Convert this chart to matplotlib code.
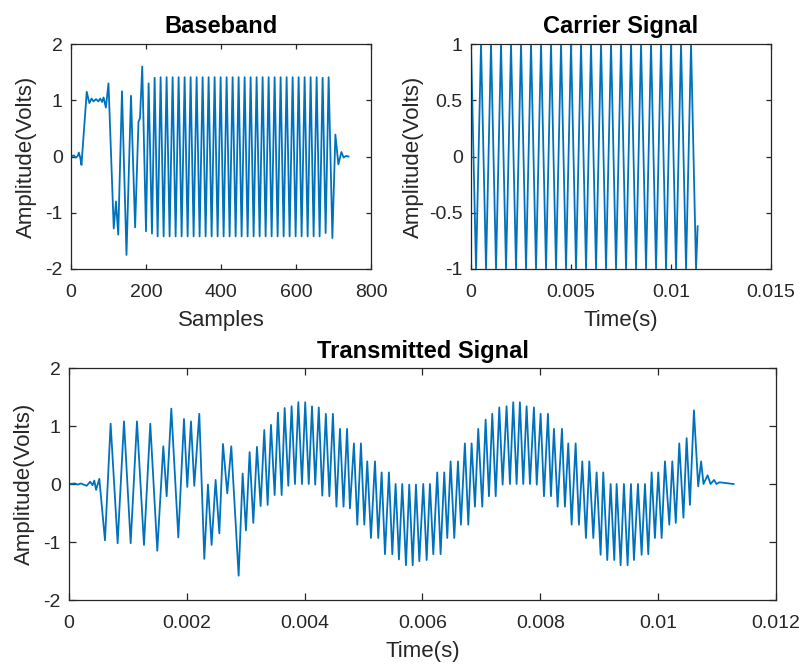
import numpy as np
import matplotlib
matplotlib.use("Agg")
import matplotlib.pyplot as plt
from matplotlib import font_manager

plt.rcParams['font.family'] = ['Liberation Sans', 'DejaVu Sans']
plt.rcParams['axes.unicode_minus'] = False

LINE_COLOR = '#0072BD'
AX_COLOR = '#262626'

# narrow bold face for the titles when it is available
_names = {f.name for f in font_manager.fontManager.ttflist}
if 'Liberation Sans Narrow' in _names:
    TITLE_FONT = dict(family=['Liberation Sans Narrow', 'Liberation Sans'], fontsize=19, fontweight='bold')
else:
    TITLE_FONT = dict(family=['Liberation Sans', 'DejaVu Sans'], fontsize=17, fontweight='bold')

# baseband: vertices of the waveform (sample index, amplitude)
baseband_n = [0, 8, 13, 18, 21, 25, 28, 42, 49, 55, 60, 67, 73, 78, 83, 87, 93, 100,
              114, 120, 126, 136, 148, 160, 171, 180, 184, 190, 200, 207, 216,
              223, 231, 239, 247, 255, 263, 271, 279, 287, 295, 303, 311, 319, 327, 335,
              343, 351, 359, 367, 375, 383, 391, 399, 407, 415, 423, 431, 439, 447, 455,
              463, 471, 479, 487, 495, 503, 511, 519, 527, 535, 543, 551, 559, 567, 575,
              583, 591, 599, 607, 615, 623, 631, 639, 647, 655, 663, 671, 679, 687,
              697, 705, 713, 721, 727, 733, 740]
baseband_v = [0.0, 0.02, -0.02, 0.01, 0.07, -0.03, -0.15, 1.15, 0.95, 1.03, 0.98, 1.02, 0.98, 1.03, 0.97, 1.05, 0.87, 1.30,
              -1.28, -0.80, -1.39, 1.16, -1.75, 1.08, -1.26, 0.62, 0.68, 1.60, -1.33, 1.30, -1.37,
              1.40, -1.42, 1.41, -1.42, 1.41, -1.42, 1.41, -1.42, 1.41, -1.42, 1.41, -1.42, 1.41, -1.42, 1.41,
              -1.42, 1.41, -1.42, 1.41, -1.42, 1.41, -1.42, 1.41, -1.42, 1.41, -1.42, 1.41, -1.42, 1.41, -1.42,
              1.41, -1.42, 1.41, -1.42, 1.41, -1.42, 1.41, -1.42, 1.41, -1.42, 1.41, -1.42, 1.41, -1.42, 1.41,
              -1.42, 1.41, -1.42, 1.41, -1.42, 1.41, -1.42, 1.41, -1.42, 1.41, -1.42, 1.40, -1.36, 1.41,
              -1.45, 0.39, -0.14, 0.08, -0.02, 0.01, 0.0]

# carrier: vertices (ms, amplitude)
carrier_ms = [0.0, 0.25, 0.5, 0.75, 1.0, 1.25, 1.5, 1.75, 2.0, 2.25, 2.5, 2.75, 3.0, 3.25,
              3.5, 3.75, 4.0, 4.25, 4.5, 4.75, 5.0, 5.25, 5.5, 5.75, 6.0, 6.25, 6.5, 6.75,
              7.0, 7.25, 7.5, 7.75, 8.0, 8.25, 8.5, 8.75, 9.0, 9.25, 9.5, 9.75, 10.0, 10.25,
              10.5, 10.75, 11.0, 11.25, 11.33]
carrier_v = [1, -1, 1, -1, 1, -1, 1, -1, 1, -1, 1, -1, 1, -1,
             1, -1, 1, -1, 1, -1, 1, -1, 1, -1, 1, -1, 1, -1,
             1, -1, 1, -1, 1, -1, 1, -1, 1, -1, 1, -1, 1, -1,
             1, -1, 1, -1, -0.62]

# transmitted signal: vertices (ms, amplitude)
tx_ms = [0.0, 0.10, 0.15, 0.20, 0.25, 0.30, 0.36, 0.40, 0.43, 0.46, 0.515,
         0.611, 0.707, 0.826, 0.934, 1.047, 1.154, 1.273, 1.380, 1.499, 1.601, 1.658,
         1.737, 1.856, 1.952, 2.008, 2.071, 2.127, 2.212, 2.297, 2.359, 2.421, 2.489,
         2.552, 2.614, 2.687, 2.755, 2.880, 2.948, 3.004, 3.066, 3.129, 3.191, 3.253,
         3.315, 3.372, 3.429, 3.491, 3.547, 3.610, 3.661, 3.723, 3.779, 3.836, 3.893,
         3.955, 4.010, 4.070, 4.125, 4.180, 4.240, 4.300, 4.360, 4.420, 4.480, 4.540,
         4.600, 4.660, 4.720, 4.769,
         4.837, 4.894, 4.956, 5.013, 5.063, 5.126, 5.194, 5.250, 5.307, 5.364, 5.431,
         5.488, 5.544, 5.601, 5.657, 5.720, 5.776, 5.834, 5.890, 5.947, 6.014, 6.071,
         6.127, 6.184, 6.251, 6.308, 6.370, 6.421, 6.478, 6.540, 6.603, 6.653, 6.720,
         6.778, 6.834, 6.891, 6.947, 7.015, 7.072, 7.129, 7.185, 7.243, 7.304, 7.361,
         7.428, 7.485, 7.541, 7.598, 7.654, 7.711, 7.768, 7.825, 7.892, 7.940, 8.006,
         8.063, 8.130, 8.181, 8.232, 8.294, 8.368, 8.418, 8.475, 8.532, 8.600, 8.656,
         8.713, 8.775, 8.832, 8.900, 8.956, 9.024, 9.069, 9.137, 9.194, 9.256, 9.296,
         9.364, 9.420, 9.482, 9.539, 9.590, 9.658, 9.720, 9.777, 9.833, 9.890, 9.946,
         10.003, 10.060, 10.116, 10.190, 10.241, 10.300, 10.359, 10.430, 10.484, 10.540,
         10.608, 10.680, 10.730, 10.770, 10.840, 10.890, 10.950, 10.990, 11.040, 11.280]
tx_v = [0.0, 0.01, -0.01, 0.01, -0.01, -0.03, 0.04, -0.02, 0.06, -0.10, 0.09,
        -0.97, 1.04, -1.02, 1.08, -1.02, 1.08, -1.05, 1.04, -1.15, 0.65, -0.21,
        1.30, -0.92, 1.12, -0.05, 1.08, -0.03, 1.21, -1.29, -0.01, -1.05, 0.07,
        -0.85, 0.69, -0.16, 0.65, -1.58, 0.18, -0.80, 0.55, -0.67, 0.64, -0.38,
        0.93, -0.36, 1.02, -0.19, 1.23, -0.19, 1.31, -0.03, 1.34, 0.0, 1.41,
        0.0, 1.41, 0.0, 1.34, -0.01, 1.32, -0.20, 1.21, -0.21, 1.21, -0.39,
        0.95, -0.39, 0.95, -0.42,
        0.70, -0.70, 0.70, -0.70, 0.39, -0.93, 0.39, -0.93, 0.20, -1.21, 0.20,
        -1.21, 0.0, -1.30, 0.0, -1.40, -0.01, -1.40, -0.01, -1.33, 0.0, -1.31,
        0.0, -1.21, 0.20, -1.21, 0.20, -0.93, 0.39, -0.93, 0.39, -0.70, 0.70,
        -0.70, 0.70, -0.39, 0.95, -0.39, 1.11, -0.21, 1.21, -0.21, 1.32, -0.01,
        1.34, 0.0, 1.41, 0.0, 1.41, 0.0, 1.34, 0.0, 1.32, -0.01, 1.21,
        -0.21, 1.21, -0.21, 0.95, -0.39, 0.95, -0.39, 0.70, -0.70, 0.70, -0.70,
        0.39, -0.93, 0.39, -0.93, 0.20, -1.22, 0.20, -1.31, 0.0, -1.31, 0.0,
        -1.40, 0.0, -1.40, 0.0, -1.31, 0.0, -1.22, 0.0, -1.21, 0.20, -0.93,
        0.20, -0.93, 0.39, -0.70, 0.39, -0.67, 0.70, -0.58, 0.79, -0.36,
        1.27, -0.04, 0.39, 0.0, 0.15, 0.0, 0.07, 0.0, 0.03, 0.0]


def style_axes(ax, tick_len):
    for sp in ax.spines.values():
        sp.set_color(AX_COLOR)
        sp.set_linewidth(0.9)
    ax.tick_params(direction='in', length=tick_len, width=0.9, colors=AX_COLOR,
                   labelsize=14, top=True, right=True)
    ax.tick_params(axis='x', pad=11)
    ax.tick_params(axis='y', pad=6)


def draw(ax, x, y):
    ax.plot(x, y, color=LINE_COLOR, linewidth=1.3, solid_joinstyle='round')


fig = plt.figure(figsize=(8.02, 6.65), dpi=100)

# Baseband
ax1 = fig.add_axes([0.0885, 0.5955, 0.3741, 0.3383])
draw(ax1, baseband_n, baseband_v)
ax1.set_xlim(0, 800)
ax1.set_ylim(-2, 2)
ax1.set_xticks([0, 200, 400, 600, 800])
ax1.set_yticks([-2, -1, 0, 1, 2])
ax1.set_title('Baseband', pad=8, **TITLE_FONT)
ax1.set_xlabel('Samples', fontsize=16, color=AX_COLOR, labelpad=6)
ax1.set_ylabel('Amplitude(Volts)', fontsize=16, color=AX_COLOR, labelpad=6)
style_axes(ax1, 3.5)

# Carrier
ax2 = fig.add_axes([0.5873, 0.5955, 0.3741, 0.3383])
draw(ax2, np.array(carrier_ms) / 1000, carrier_v)
ax2.set_xlim(0, 0.015)
ax2.set_ylim(-1, 1)
ax2.set_xticks([0, 0.005, 0.01, 0.015], ['0', '0.005', '0.01', '0.015'])
ax2.set_yticks([-1, -0.5, 0, 0.5, 1], ['-1', '-0.5', '0', '0.5', '1'])
ax2.set_title('Carrier Signal', pad=8, **TITLE_FONT)
ax2.set_xlabel('Time(s)', fontsize=16, color=AX_COLOR, labelpad=6)
ax2.set_ylabel('Amplitude(Volts)', fontsize=16, color=AX_COLOR, labelpad=4)
style_axes(ax2, 3.5)

# Transmitted
ax3 = fig.add_axes([0.0860, 0.0977, 0.8815, 0.3489])
draw(ax3, np.array(tx_ms) / 1000, tx_v)
ax3.set_xlim(0, 0.012)
ax3.set_ylim(-2, 2)
ax3.set_xticks([0, 0.002, 0.004, 0.006, 0.008, 0.01, 0.012],
               ['0', '0.002', '0.004', '0.006', '0.008', '0.01', '0.012'])
ax3.set_yticks([-2, -1, 0, 1, 2])
ax3.set_title('Transmitted Signal', pad=7, **TITLE_FONT)
ax3.set_xlabel('Time(s)', fontsize=16, color=AX_COLOR, labelpad=6)
ax3.set_ylabel('Amplitude(Volts)', fontsize=16, color=AX_COLOR, labelpad=6)
style_axes(ax3, 5)

fig.savefig('out.png', dpi=100)
